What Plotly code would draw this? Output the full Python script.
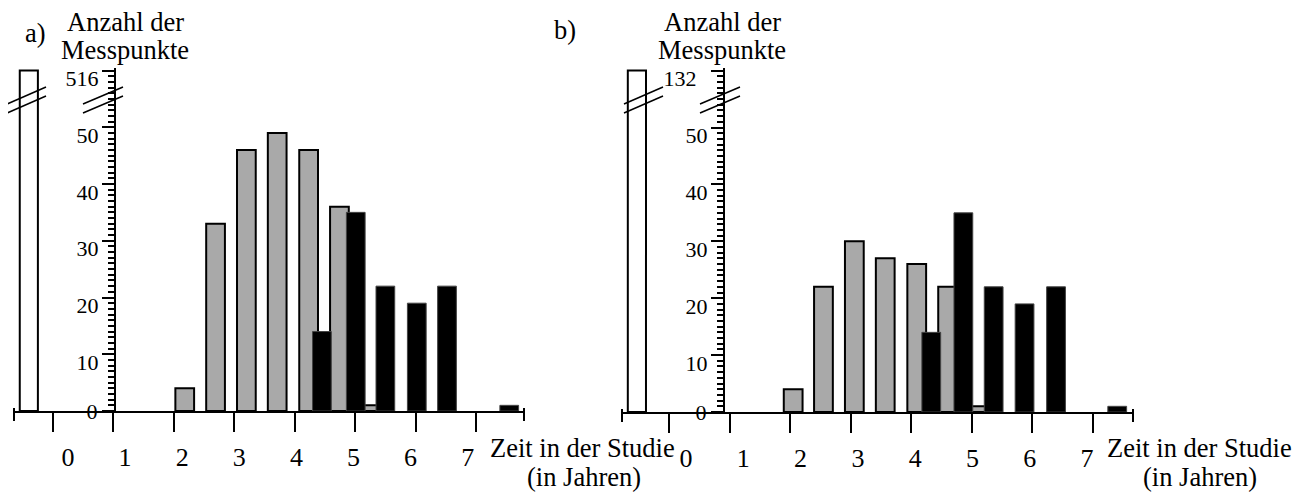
import plotly.graph_objects as go

W, H = 1300, 492
OFF = 8  # page body margin of the html page (pixels)

# ---------------- data ----------------
x_tick_vals = [0, 1, 2, 3, 4, 5, 6, 7]
x_tick_text = ["0", "1", "2", "3", "4", "5", "6", "7"]
y_tick_vals = [0, 10, 20, 30, 40, 50, 60]
AXIS_BREAK = 60  # position on the axis where the broken (large) value sits

# panel a
a_white_x = [-0.40]
a_white_y = [516]
a_gray_x = [2.18, 2.69, 3.20, 3.71, 4.23, 4.74, 5.28]
a_gray_y = [4, 33, 46, 49, 46, 36, 1]
a_black_x = [4.45, 5.01, 5.50, 6.02, 6.52, 7.55]
a_black_y = [14, 35, 22, 19, 22, 1]
a_y_tick_text = ["0", "10", "20", "30", "40", "50", "516"]

# panel b
b_white_x = [-0.53]
b_white_y = [132]
b_gray_x = [2.05, 2.55, 3.06, 3.57, 4.09, 4.60, 5.14]
b_gray_y = [4, 22, 30, 27, 26, 22, 1]
b_black_x = [4.33, 4.86, 5.36, 5.87, 6.39, 7.40]
b_black_y = [14, 35, 22, 19, 22, 1]
b_y_tick_text = ["0", "10", "20", "30", "40", "50", "132\u00a0\u00a0"]

x_title_1 = "Zeit in der Studie"
x_title_2 = "(in Jahren)"
y_title_1 = "Anzahl der"
y_title_2 = "Messpunkte"

FONT = "Liberation Serif"
GRAY = "#a9a9a9"


def px(x):
    return (x - OFF) / W


def py(y):
    return 1 - (y - OFF) / H


fig = go.Figure()


def add_panel(xa, ya, xlab, ylab, white_x, white_y, gray_x, gray_y, black_x, black_y):
    disp_white = [min(v, AXIS_BREAK) for v in white_y]
    fig.add_trace(go.Bar(x=white_x, y=disp_white, width=0.30, customdata=white_y,
                         hovertemplate="%{customdata}<extra></extra>",
                         marker=dict(color="white", line=dict(color="black", width=2)),
                         xaxis=xa, yaxis=ya))
    fig.add_trace(go.Bar(x=gray_x, y=gray_y, width=0.31,
                         marker=dict(color=GRAY, line=dict(color="black", width=2)),
                         xaxis=xa, yaxis=ya))
    fig.add_trace(go.Bar(x=black_x, y=black_y, width=0.31,
                         marker=dict(color="black", line=dict(color="#444", width=1)),
                         xaxis=xa, yaxis=ya))
    # invisible carriers so the label axes are drawn
    fig.add_trace(go.Scatter(x=x_tick_vals, y=[0] * len(x_tick_vals), mode="markers",
                             marker=dict(opacity=0, size=1), hoverinfo="skip",
                             xaxis=xlab, yaxis=ya))
    fig.add_trace(go.Scatter(x=[0] * len(y_tick_vals), y=y_tick_vals, mode="markers",
                             marker=dict(opacity=0, size=1), hoverinfo="skip",
                             xaxis=xa, yaxis=ylab))


add_panel("x", "y", "x2", "y2", a_white_x, a_white_y, a_gray_x, a_gray_y, a_black_x, a_black_y)
add_panel("x3", "y3", "x4", "y4", b_white_x, b_white_y, b_gray_x, b_gray_y, b_black_x, b_black_y)

# panel geometry (screen pixels)
panels = {
    "a": dict(x0=14, x1=524, zero=53, unit=60.43, lab0=68, labunit=57.1,
              y0=411, yunit=5.675, yaxis_px=115),
    "b": dict(x0=622, x1=1133, zero=669, unit=60.57, lab0=686, labunit=57.3,
              y0=412, yunit=5.69, yaxis_px=724),
}

axis_common = dict(showgrid=False, zeroline=False, linecolor="black", linewidth=2,
                   tickcolor="black", tickwidth=2, automargin=False)
layout = dict(width=W, height=H, margin=dict(l=0, r=0, t=0, b=0, autoexpand=False),
              paper_bgcolor="white", plot_bgcolor="white", showlegend=False,
              barmode="overlay", font=dict(family=FONT, color="black", size=25))

for key, main, lab, yname, ylab, yticks in [
        ("a", "xaxis", "xaxis2", "yaxis", "yaxis2", a_y_tick_text),
        ("b", "xaxis3", "xaxis4", "yaxis3", "yaxis4", b_y_tick_text)]:
    p = panels[key]
    dom = [px(p["x0"]), px(p["x1"])]
    rng = [(p["x0"] - p["zero"]) / p["unit"], (p["x1"] - p["zero"]) / p["unit"]]
    lrng = [(p["x0"] - p["lab0"]) / p["labunit"], (p["x1"] - p["lab0"]) / p["labunit"]]
    top = AXIS_BREAK + 0.4
    ydom = [py(p["y0"]), py(p["y0"] - top * p["yunit"])]
    yref = "y" if yname == "yaxis" else "y3"
    mainref = "x" if main == "xaxis" else "x3"
    layout[main] = dict(axis_common, domain=dom, range=rng, anchor=yref, showline=True,
                        tickmode="array", tickvals=x_tick_vals, ticks="outside", ticklen=19,
                        showticklabels=False)
    layout[lab] = dict(overlaying=mainref, anchor=yref, range=lrng, showgrid=False,
                       zeroline=False, showline=False, tickmode="array", automargin=False,
                       tickvals=x_tick_vals, ticktext=x_tick_text, ticks="outside",
                       ticklen=23, tickcolor="rgba(0,0,0,0)",
                       tickfont=dict(family=FONT, size=26, color="black"))
    # main y axis: line, ticks and the "0" label
    layout[yname] = dict(axis_common, domain=ydom, range=[0, top], anchor="free",
                         position=px(p["yaxis_px"]), showline=True, tickmode="array",
                         tickvals=y_tick_vals,
                         ticktext=[yticks[0]] + [""] * (len(yticks) - 1),
                         ticks="outside", ticklen=12,
                         minor=dict(dtick=1, tick0=0, ticks="outside", ticklen=6,
                                    tickwidth=1.5, tickcolor="black"),
                         tickfont=dict(family=FONT, size=22, color="black"))
    # label y axis: remaining labels, sitting slightly below their ticks
    layout[ylab] = dict(overlaying=yref, anchor="free", position=px(p["yaxis_px"]),
                        range=[0, top], showgrid=False, zeroline=False, showline=False,
                        automargin=False, tickmode="array", tickvals=y_tick_vals[1:],
                        ticktext=yticks[1:], ticks="outside", ticklen=12,
                        tickcolor="rgba(0,0,0,0)", ticklabelshift=8,
                        tickfont=dict(family=FONT, size=22, color="black"))

fig.update_layout(**layout)

# text
ann = []
def text(t, x, y, xanchor="center", size=26.5):
    ann.append(dict(text=t, x=px(x), y=py(y), xref="paper", yref="paper",
                    xanchor=xanchor, yanchor="middle", showarrow=False, borderpad=0,
                    font=dict(family=FONT, size=size, color="black")))

text("a)", 35, 33)
text("b)", 565, 30)
text(y_title_1, 125, 22)
text(y_title_2, 125, 50)
text(y_title_1, 722, 22)
text(y_title_2, 722, 50)
text(x_title_1, 676, 448, "right")
text(x_title_2, 584, 477)
text(x_title_1, 1293, 448, "right")
text(x_title_2, 1200, 477)
fig.update_layout(annotations=ann)

# decorations: axis end caps and break marks
shapes = []
def seg(x0, y0, x1, y1, w=1.5):
    shapes.append(dict(type="line", xref="paper", yref="paper", x0=px(x0), y0=py(y0),
                       x1=px(x1), y1=py(y1), line=dict(color="black", width=w)))

for key in ("a", "b"):
    p = panels[key]
    for xe in (p["x0"], p["x1"]):
        seg(xe, p["y0"] - 3, xe, p["y0"] + 10, 2)

for (bx, ax) in ((7, 83), (624, 700)):
    for dy in (0, 9):
        seg(bx, 104 + dy, bx + 39, 87 + dy)
        seg(ax, 104 + dy, ax + 40, 87 + dy)

fig.update_layout(shapes=shapes)

fig.write_html("out.html")
